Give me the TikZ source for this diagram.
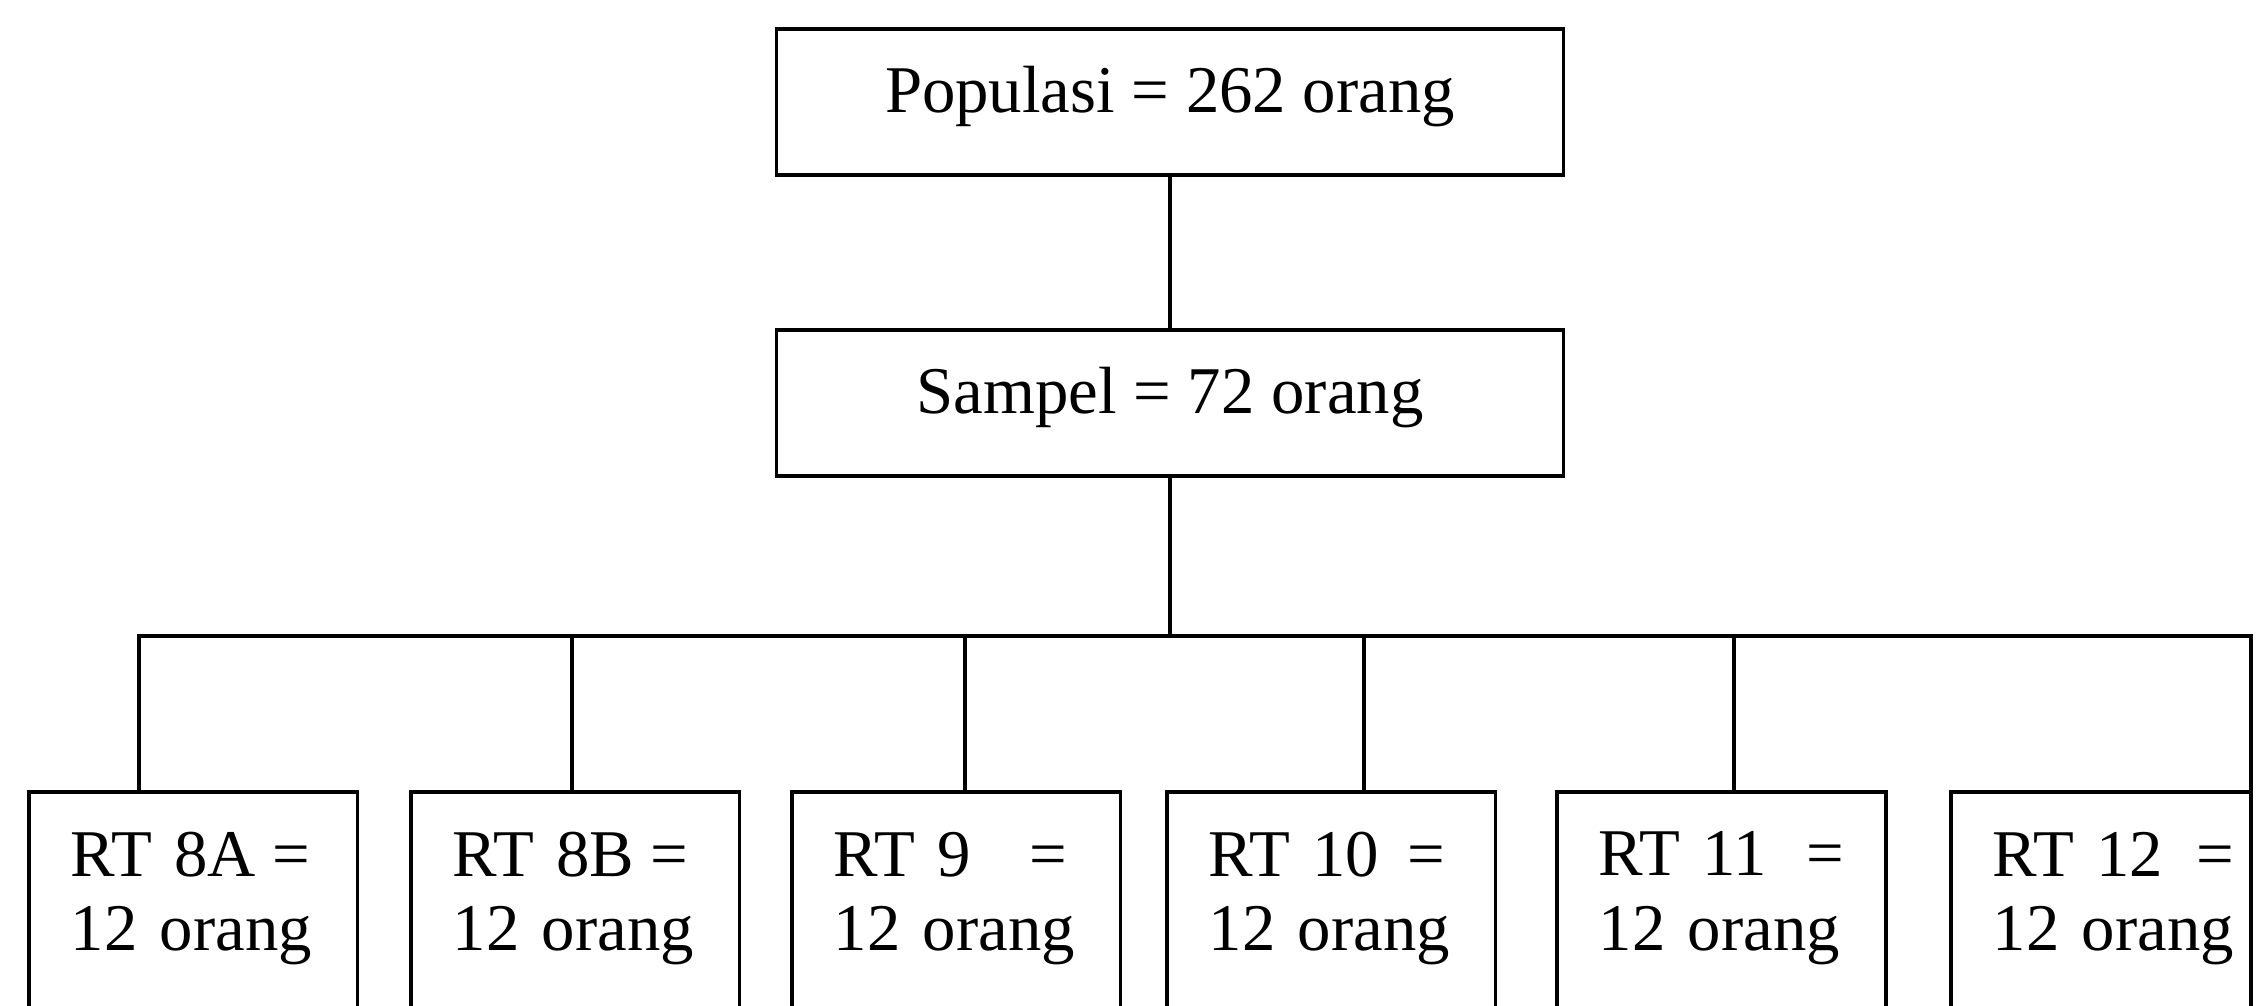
\documentclass[tikz,border=0pt]{standalone}
\usepackage{fontspec}
\setmainfont{Liberation Serif}
\usetikzlibrary{positioning}

\tikzset{
  topbox/.style={draw, line width=2pt, minimum width=447.9pt, minimum height=83.3pt, inner sep=0pt, text depth=14.6pt},
  rtbox/.style={draw, line width=2pt, anchor=north west, outer sep=0pt, align=left,
    text width=#1, inner xsep=23.8pt, inner ysep=22.7pt, text depth=150pt},
  rtbox/.default=139.5pt,
  link/.style={line width=2pt}
}
\newcommand{\rtline}[2]{\mbox{RT #1\hspace{#2}=}\\\mbox{12 orang}}

\begin{document}
\begin{tikzpicture}[x=0.02cm,y=-0.02cm,font=\fontsize{38}{42.5}\selectfont]
\useasboundingbox (0,0) rectangle (2266,1005);
\clip (0,0) rectangle (2266,1005);
% upper boxes
\node[topbox] (pop) at (1170,102) {Populasi = 262 orang};
\node[topbox] (smp) at (1170,403) {Sampel = 72 orang};
\coordinate (bus) at (1170,636);
% RT boxes
\node[rtbox] (rt8a) at (29,792) {\rtline{8A}{0.25em}};
\node[rtbox] (rt8b) at (411,792) {\rtline{8B}{0.25em}};
\node[rtbox] (rt9) at (792,792) {\rtline{9}{0.88em}};
\node[rtbox] (rt10) at (1167,792) {\rtline{10}{0.43em}};
\node[rtbox] (rt11) at (1557,792) {\rtline{11}{0.6em}};
\node[rtbox=123pt] (rt12) at (1951,792) {\rtline{12}{0.5em}};
% connectors
\draw[link] (pop) -- (smp);
\draw[link] (smp) -- (bus);
\draw[link] (rt8a.north -| 139,0) |- (bus -| rt12.north east) -- (rt12.north east);
\foreach \n/\x in {rt8b/572, rt9/965, rt10/1364, rt11/1734}
  \draw[link] (bus -| \x,0) -- (\n.north -| \x,0);
\end{tikzpicture}
\end{document}
